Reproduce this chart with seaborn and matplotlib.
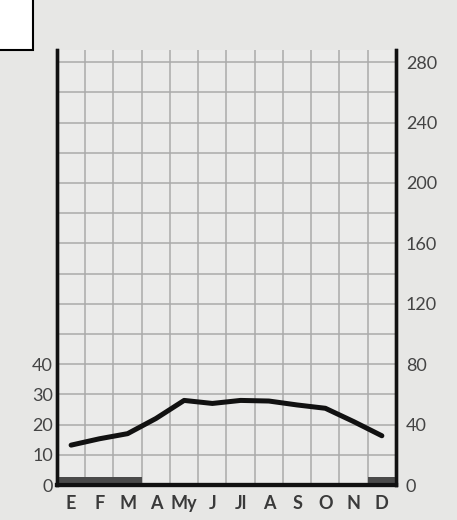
import numpy as np
import pandas as pd
import matplotlib
matplotlib.use('Agg')
import matplotlib.pyplot as plt
import seaborn as sns
from matplotlib.patches import Rectangle

# =========================
# DATA
# =========================

months = ['E', 'F', 'M', 'A', 'My', 'J', 'Jl', 'A', 'S', 'O', 'N', 'D']
temperature = [13.2, 15.3, 17.0, 22.0, 28.0, 27.0, 28.0, 27.8, 26.5, 25.4, 21.0, 16.3]
precipitation = [5, 5, 5, 0, 0, 0, 0, 0, 0, 0, 0, 5]

temp_ticks = [0, 10, 20, 30, 40]
precip_ticks = [0, 40, 80, 120, 160, 200, 240, 280]

df = pd.DataFrame({
    'pos': np.arange(len(months)),
    'month': months,
    'temp': temperature,
    'precip': precipitation,
})

# =========================
# FIGURE
# =========================

sns.set_theme(style='white')
plt.rcParams['font.family'] = ['Lato', 'DejaVu Sans']

paper = '#e7e7e5'
grid_col = '#aaaaaa'
fig = plt.figure(figsize=(4.57, 5.2), dpi=100, facecolor=paper)
ax = fig.add_axes([0.1247, 0.0673, 0.7418, 0.8365])
ax.set_facecolor('#ebebea')

# temperature line (left scale)
sns.lineplot(data=df, x='pos', y='temp', ax=ax, color='#111111',
             linewidth=3.6, solid_capstyle='round', zorder=5)

ax.set_xlim(-0.5, 11.5)
ax.set_ylim(0, 144)

# grid: one column per month, rows every 10 degrees (20 mm)
ax.set_xticks(df['pos'])
ax.set_xticklabels(months, fontsize=13, fontweight='bold', color='#3a3a3a')
ax.set_xticks(np.arange(0.5, 11.5, 1), minor=True)
ax.grid(True, which='minor', axis='x', color=grid_col, linewidth=1.1)
ax.set_yticks(np.arange(0, 141, 10))
ax.set_yticklabels([str(v) if v in temp_ticks else '' for v in range(0, 141, 10)],
                   fontsize=13, color='#444444')
ax.grid(True, which='major', axis='y', color=grid_col, linewidth=1.1)
ax.tick_params(axis='both', which='both', length=0)
ax.tick_params(axis='x', pad=7)
ax.tick_params(axis='y', pad=3)
ax.set_xlabel('')
ax.set_ylabel('')

# precipitation bars (right scale)
ax2 = ax.twinx()
sns.barplot(data=df, x='pos', y='precip', ax=ax2, color='#4a4a4a',
            width=1.0, saturation=1, native_scale=True, linewidth=0)
ax2.set_xlim(-0.5, 11.5)
ax2.set_ylim(0, 288)
ax2.set_yticks(precip_ticks)
ax2.set_yticklabels([str(v) for v in precip_ticks], fontsize=13, color='#444444')
ax2.tick_params(axis='y', length=0, pad=7)
ax2.set_xlabel('')
ax2.set_ylabel('')
ax2.grid(False)

for a in (ax, ax2):
    a.spines['top'].set_visible(False)
    a.spines['left'].set_linewidth(2.4)
    a.spines['right'].set_linewidth(2.4)
    a.spines['bottom'].set_linewidth(3)
    for s in a.spines.values():
        s.set_color('#111111')

# white box in the top-left corner
fig.patches.append(Rectangle((-0.02, 0.904), 0.093, 0.12, transform=fig.transFigure,
                             facecolor='white', edgecolor='black', linewidth=1.5))

plt.savefig('out.png', dpi=100, facecolor=paper)
